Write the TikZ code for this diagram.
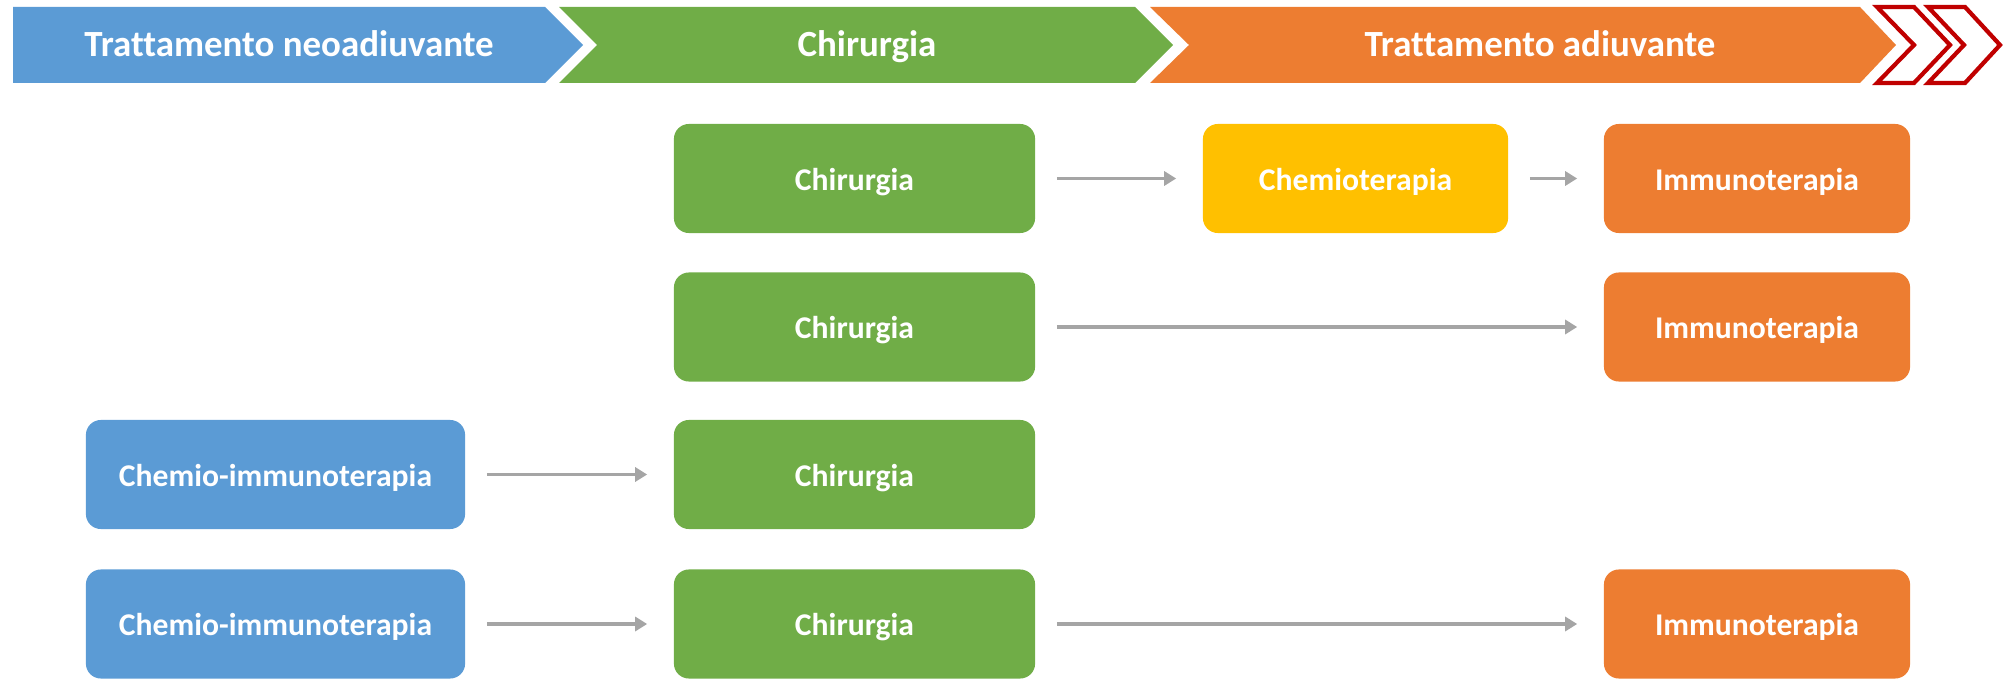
\documentclass[tikz,border=0pt]{standalone}
\usepackage{fontspec}
\setmainfont{Carlito}[Ligatures={NoCommon}]
\usetikzlibrary{arrows.meta}
\definecolor{cblue}{HTML}{5B9BD5}
\definecolor{cgreen}{HTML}{70AD47}
\definecolor{corange}{HTML}{ED7D31}
\definecolor{cyellow}{HTML}{FFC000}
\definecolor{cgray}{HTML}{A5A5A5}
\definecolor{cred}{HTML}{C00000}
\tikzset{
  box/.style={rounded corners=0.15cm, inner sep=0pt, minimum height=1.09cm,
    text height=1.38ex, text depth=0pt,
    text=white, font=\fontsize{9}{11}\selectfont\bfseries},
  greenbox/.style={box, fill=cgreen, minimum width=3.61cm},
  bluebox/.style={box, fill=cblue, minimum width=3.79cm},
  yellowbox/.style={box, fill=cyellow, minimum width=3.05cm},
  orangebox/.style={box, fill=corange, minimum width=3.06cm},
  arr/.style={draw=cgray, line width=0.9pt, -{Triangle[length=0.12cm,width=0.14cm]},
    shorten <=0.21cm, shorten >=0.26cm},
  headtext/.style={text=white, font=\fontsize{10.5}{12}\selectfont\bfseries, inner sep=0pt,
    text height=1.38ex, text depth=0pt},
  redchev/.style={draw=cred, line width=1.2pt, fill=white, line join=miter}
}
\begin{document}
\begin{tikzpicture}[x=0.01cm,y=-0.01cm]
\useasboundingbox (0,0) rectangle (2003,679);
% header chevrons
\fill[cblue] (13,7) -- (545,7) -- (583,45) -- (545,83) -- (13,83) -- cycle;
\fill[cgreen] (559,7) -- (1135,7) -- (1173,45) -- (1135,83) -- (559,83) -- (597,45) -- cycle;
\fill[corange] (1150,7) -- (1860,7) -- (1896,45) -- (1860,83) -- (1150,83) -- (1189,45) -- cycle;
\draw[redchev] (1877,7) -- (1914,7) -- (1950,45) -- (1914,83) -- (1877,83) -- (1914,45) -- cycle;
\draw[redchev] (1928,7) -- (1965,7) -- (2000,45) -- (1965,83) -- (1928,83) -- (1964,45) -- cycle;
\node[headtext] (h1) at (289,45) {Trattamento neoadiuvante};
\node[headtext] (h2) at (867,45) {Chirurgia};
\node[headtext] (h3) at (1540,45) {Trattamento adiuvante};
% row 1
\node[greenbox] (g1) at (854.5,178.5) {Chirurgia};
\node[yellowbox] (y1) at (1355.5,178.5) {Chemioterapia};
\node[orangebox] (o1) at (1757,178.5) {Immunoterapia};
\draw[arr] (g1) -- (y1);
\draw[arr] (y1) -- (o1);
% row 2
\node[greenbox] (g2) at (854.5,327) {Chirurgia};
\node[orangebox] (o2) at (1757,327) {Immunoterapia};
\draw[arr] (g2) -- (o2);
% row 3
\node[bluebox] (b3) at (275.5,474.5) {Chemio-immunoterapia};
\node[greenbox] (g3) at (854.5,474.5) {Chirurgia};
\draw[arr] (b3) -- (g3);
% row 4
\node[bluebox] (b4) at (275.5,624) {Chemio-immunoterapia};
\node[greenbox] (g4) at (854.5,624) {Chirurgia};
\node[orangebox] (o4) at (1757,624) {Immunoterapia};
\draw[arr] (b4) -- (g4);
\draw[arr] (g4) -- (o4);
\end{tikzpicture}
\end{document}
